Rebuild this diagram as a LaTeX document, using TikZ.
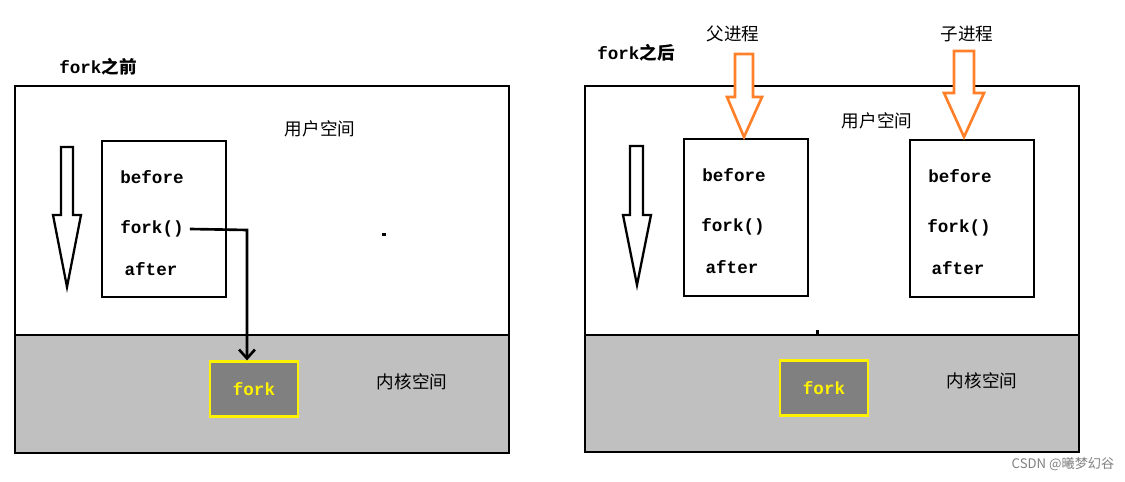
\documentclass[tikz,border=0pt]{standalone}
\usepackage{fontspec}
\setmainfont{Liberation Mono}
\newfontfamily\cjk{Noto Sans CJK SC}
\usetikzlibrary{arrows.meta}
\definecolor{kernelgray}{RGB}{192,192,192}
\definecolor{forkgray}{RGB}{128,128,128}
\definecolor{procorange}{RGB}{255,128,40}
\tikzset{
  space/.style={draw, line width=1.3pt},
  codebox/.style={draw, line width=1.3pt},
  code/.style={font=\bfseries\fontsize{10}{12}\selectfont},
  cn/.style={font=\cjk\fontsize{10}{12}\selectfont},
  kfork/.style={draw=yellow, line width=1.3pt, fill=forkgray, text=yellow, minimum width=1.76cm, minimum height=1.1cm, font=\bfseries\fontsize{10}{12}\selectfont},
  hollow/.style={draw, line width=1.3pt, fill=white},
  orangearrow/.style={draw=procorange, line width=1.5pt, fill=white}
}
\begin{document}
\begin{tikzpicture}[x=0.02cm, y=-0.02cm]
  \useasboundingbox (0,0) rectangle (1125,482);
  % before fork
  \fill[kernelgray] (15,335) rectangle (509,453);
  \draw[space] (15,86) rectangle (509,453);
  \draw[space] (15,335) -- (509,335);
  \node (l1) at (98,67) [code] {fork{\cjk 之前}};
  \node (lu) at (320,129) [cn] {用户空间};
  \node (lk) at (412,382) [cn] {内核空间};
  \draw[codebox] (102,141) rectangle (226,297);
  \node (lb) at (152,177) [code] {before};
  \node (lf) at (152,229) [code] {fork()};
  \node (la) at (151,269) [code] {after};
  \draw[hollow] (61,147) -- (73,147) -- (73,215) -- (81,215) -- (67,287) -- (53,215) -- (61,215) -- cycle;
  \node (lkf) at (254,389) [kfork] {fork};
  \coordinate (lc) at (247,230);
  \draw[line width=1.5pt, -{Straight Barb[length=5pt,width=9pt]}] (lf.east) -- (lc) -- (lkf.north -| lc);
  \fill (382,233) rectangle (386,236);
  % after fork
  \fill[kernelgray] (585,335) rectangle (1079,452);
  \draw[space] (585,86) rectangle (1079,452);
  \draw[space] (585,335) -- (1079,335);
  \node (r1) at (636,53) [code] {fork{\cjk 之后}};
  \node (ru) at (877,121) [cn] {用户空间};
  \node (rk) at (982,381) [cn] {内核空间};
  \node (pp) at (733,34) [cn] {父进程};
  \node (cp) at (967,34) [cn] {子进程};
  \draw[codebox] (684,139) rectangle (808,296);
  \node (pb) at (734,175) [code] {before};
  \node (pf) at (733,227) [code] {fork()};
  \node (pa) at (732,267) [code] {after};
  \draw[codebox] (910,140) rectangle (1034,297);
  \node (cb) at (960,176) [code] {before};
  \node (cf) at (959,228) [code] {fork()};
  \node (ca) at (958,268) [code] {after};
  \draw[hollow] (630,146) -- (643,146) -- (643,215) -- (651,215) -- (637,285) -- (623,215) -- (630,215) -- cycle;
  \draw[orangearrow] (735,54) -- (753,54) -- (753,97) -- (762,97) -- (744,137) -- (727,97) -- (735,97) -- cycle;
  \draw[orangearrow] (954,51) -- (974,51) -- (974,93) -- (984,93) -- (964,137) -- (944,93) -- (954,93) -- cycle;
  \node (rkf) at (824,388) [kfork] {fork};
  \fill (816,330) rectangle (819,335);
  \node (wm) at (1063,464) [font=\cjk\fontsize{7.5}{9}\selectfont, text=gray] {CSDN @曦梦幻谷};
\end{tikzpicture}
\end{document}
